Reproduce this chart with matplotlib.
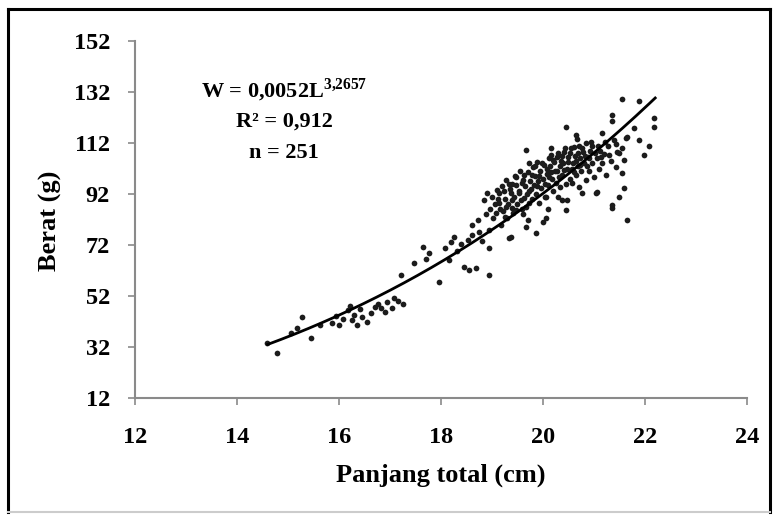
import numpy as np
import matplotlib
matplotlib.use('Agg')
import matplotlib.pyplot as plt
from matplotlib.lines import Line2D

# fish length (cm) and weight (g)
length_cm = [
    14.58, 14.78, 15.05, 15.17, 15.27, 15.46, 15.62, 15.87, 15.95, 16.00,
    16.08, 16.17, 16.22, 16.25, 16.30, 16.36, 16.42, 16.46, 16.55, 16.62,
    16.70, 16.76, 16.83, 16.90, 16.95, 17.03, 17.08, 17.15, 17.25, 17.22,
    17.48, 17.64, 17.70, 17.77, 17.97, 18.07, 18.15, 18.20, 18.26, 18.32,
    18.40, 18.46, 18.52, 18.55, 18.60, 18.61, 18.69, 18.72, 18.75, 18.80,
    18.85, 18.88, 18.90, 18.95, 18.95, 18.95, 18.97,
    19.00, 19.02, 19.05, 19.08, 19.10, 19.14, 19.14, 19.18, 19.20, 19.22,
    19.25, 19.28, 19.28, 19.30, 19.34, 19.34, 19.38, 19.38, 19.40, 19.40,
    19.42, 19.45, 19.47, 19.47, 19.50, 19.52, 19.53, 19.55, 19.58, 19.60,
    19.62, 19.65, 19.67, 19.67, 19.67, 19.70, 19.72, 19.73, 19.73, 19.75,
    19.78, 19.80, 19.82, 19.85, 19.87, 19.87, 19.88, 19.90, 19.92, 19.95,
    19.97, 20.00, 20.00, 20.02, 20.04, 20.06, 20.06, 20.08, 20.10, 20.12,
    20.14, 20.16, 20.16, 20.18, 20.20, 20.22, 20.25, 20.28, 20.30, 20.33,
    20.35, 20.38, 20.38, 20.40, 20.42, 20.45, 20.45, 20.45, 20.47, 20.48,
    20.50, 20.52, 20.55, 20.57, 20.58, 20.60, 20.62, 20.65, 20.65, 20.67,
    20.68, 20.70, 20.70, 20.72, 20.75, 20.77, 20.78, 20.80, 20.84, 20.85,
    20.88, 20.90, 20.92, 20.96, 20.96, 21.00, 21.04, 21.06, 21.06, 21.10,
    21.12, 21.16, 21.16, 21.20, 21.24, 21.28, 21.30, 21.33,
    19.12, 19.16, 19.24, 19.26, 19.32, 19.36, 19.40, 19.44, 19.48, 19.56,
    19.58, 19.60, 19.63, 19.69, 19.70, 19.76, 19.79, 19.84, 19.89, 19.93,
    19.98, 20.03, 20.07, 20.10, 20.11, 20.15, 20.19, 20.23, 20.27, 20.30,
    20.31, 20.34, 20.37, 20.41, 20.44, 20.49, 20.53, 20.56, 20.61, 20.64,
    20.69, 20.73, 20.76, 20.82, 20.86, 20.91, 20.95, 21.02, 21.08, 21.14,
    21.22,
    21.35, 21.35, 21.35, 21.35, 21.40, 21.43, 21.43, 21.45, 21.49, 21.49,
    21.55, 21.55, 21.55, 21.59, 21.59, 21.62, 21.65, 21.65, 21.78, 21.88,
    21.88, 21.98, 22.08, 22.18, 22.18,
]
weight_g = [
    33.5, 29.6, 37.5, 39.4, 43.7, 35.5, 40.8, 41.4, 44.2, 40.6,
    43.0, 46.4, 48.0, 42.5, 44.5, 40.6, 47.0, 43.7, 41.8, 45.5,
    47.6, 49.0, 47.2, 45.8, 49.6, 47.2, 51.1, 50.0, 48.8, 60.1,
    64.8, 71.1, 66.5, 68.7, 57.4, 70.7, 66.0, 73.1, 75.0, 69.5,
    72.2, 63.3, 74.0, 62.1, 79.7, 75.8, 62.9, 81.7, 77.0, 73.5,
    89.5, 84.0, 92.2, 60.1, 70.7, 77.8, 86.0,
    90.7, 82.5, 88.0, 84.4, 93.5, 88.3, 92.2, 80.0, 95.0, 85.5,
    90.0, 86.8, 97.3, 82.5, 74.6, 96.1, 75.0, 92.5, 89.5, 96.1,
    84.5, 99.0, 85.6, 98.5, 88.0, 93.0, 92.2, 101.0, 86.0, 97.3,
    90.5, 95.0, 78.9, 86.8, 109.1, 100.5, 93.0, 88.5, 104.0, 97.0,
    90.0, 102.5, 95.5, 99.0, 76.6, 92.0, 104.5, 97.0, 88.5, 101.0,
    94.5, 80.9, 98.0, 103.5, 91.0, 82.5, 90.7, 100.0, 95.5, 106.0,
    103.0, 107.1, 110.2, 98.0, 93.0, 104.5, 96.5, 101.0, 108.0, 94.6,
    105.0, 89.5, 99.5, 104.0, 108.5, 85.6, 96.0, 118.1, 89.5, 102.0,
    106.5, 98.0, 110.0, 96.5, 104.0, 100.5, 107.0, 99.3, 115.0, 113.5,
    103.0, 94.6, 111.0, 106.0, 101.0, 92.2, 108.5, 104.0, 97.3, 112.0,
    106.5, 101.2, 109.0, 110.9, 104.0, 98.5, 92.2, 92.6, 106.0, 102.0,
    109.0, 104.0, 116.1, 107.5, 99.3, 111.0, 107.1, 105.0,
    90.0, 86.0, 93.0, 83.0, 88.0, 94.0, 86.5, 91.0, 95.5, 89.5,
    96.5, 84.0, 99.5, 92.0, 82.0, 94.0, 99.5, 103.0, 95.0, 99.0,
    104.0, 96.0, 102.0, 86.0, 98.5, 100.5, 105.5, 101.0, 106.5, 91.0,
    98.5, 103.0, 107.0, 101.5, 110.0, 104.5, 108.0, 102.0, 110.5, 105.0,
    108.0, 103.5, 110.0, 107.0, 103.0, 106.0, 112.5, 108.0, 111.0, 106.5,
    112.5,
    86.4, 87.5, 120.8, 122.8, 113.0, 102.4, 111.8, 108.5, 90.7, 107.9,
    100.1, 110.2, 129.4, 94.2, 105.2, 114.0, 81.7, 114.2, 117.7, 113.0,
    128.6, 107.1, 111.0, 118.1, 122.0,
]

# power fit W = a * L^b
a_coef = 0.0052
b_coef = 3.2657
fit_range = (14.6, 22.2)

x_ticks = [12, 14, 16, 18, 20, 22, 24]
y_ticks = [12, 32, 52, 72, 92, 112, 132, 152]

plt.rcParams['font.family'] = ['Liberation Serif', 'DejaVu Serif']
plt.rcParams['font.weight'] = 'bold'
plt.rcParams['mathtext.fontset'] = 'custom'
plt.rcParams['mathtext.rm'] = 'Liberation Serif:bold'
plt.rcParams['mathtext.bf'] = 'Liberation Serif:bold'

fig = plt.figure(figsize=(7.76, 5.15), dpi=100)
ax = fig.add_axes([135 / 776, 1 - 398 / 515, (747 - 135) / 776, (398 - 41) / 515])

ax.scatter(length_cm, weight_g, s=17, color='#1c1c1c', linewidths=0, zorder=2)

xs = np.linspace(fit_range[0], fit_range[1], 200)
ax.plot(xs, a_coef * xs ** b_coef, color='black', linewidth=2.0, zorder=3)

ax.set_xlim(12, 24)
ax.set_ylim(12, 152)
ax.set_xticks(x_ticks)
ax.set_yticks(y_ticks)
ax.tick_params(axis='both', labelsize=17.5, color='#8a8a8a', length=5, width=1.2)
ax.tick_params(axis='x', pad=16)
ax.tick_params(axis='y', pad=13)
for lbl in ax.get_xticklabels() + ax.get_yticklabels():
    lbl.set_fontweight('bold')

for side in ['top', 'right']:
    ax.spines[side].set_visible(False)
for side in ['left', 'bottom']:
    ax.spines[side].set_color('#8a8a8a')
    ax.spines[side].set_linewidth(1.5)

fig.text(441 / 776, 1 - 475 / 515, 'Panjang total (cm)', fontsize=19, fontweight='bold',
         ha='center', va='center')
fig.text(50 / 776, 1 - 221 / 515, 'Berat (g)', fontsize=19, fontweight='bold',
         rotation=90, ha='center', va='center')

fig.text(284 / 776, 1 - 90 / 515, 'W = 0,0052L$^{3{,}2657}$', fontsize=16,
         fontweight='bold', ha='center', va='center')
fig.text(284 / 776, 1 - 122 / 515, 'R² = 0,912', fontsize=16, fontweight='bold',
         ha='center', va='center')
fig.text(284 / 776, 1 - 153 / 515, 'n = 251', fontsize=16, fontweight='bold',
         ha='center', va='center')

# frame around the picture
for xy in [((8, 8), (9, 512)), ((8, 770), (9, 9)), ((770, 770), (9, 512))]:
    fig.add_artist(Line2D([p / 776 for p in xy[0]], [1 - p / 515 for p in xy[1]],
                          color='black', linewidth=2.2))
fig.add_artist(Line2D([8 / 776, 770 / 776], [1 - 512 / 515] * 2, color='#cccccc', linewidth=1.5))

fig.savefig('out.png', dpi=100)
plt.close()
